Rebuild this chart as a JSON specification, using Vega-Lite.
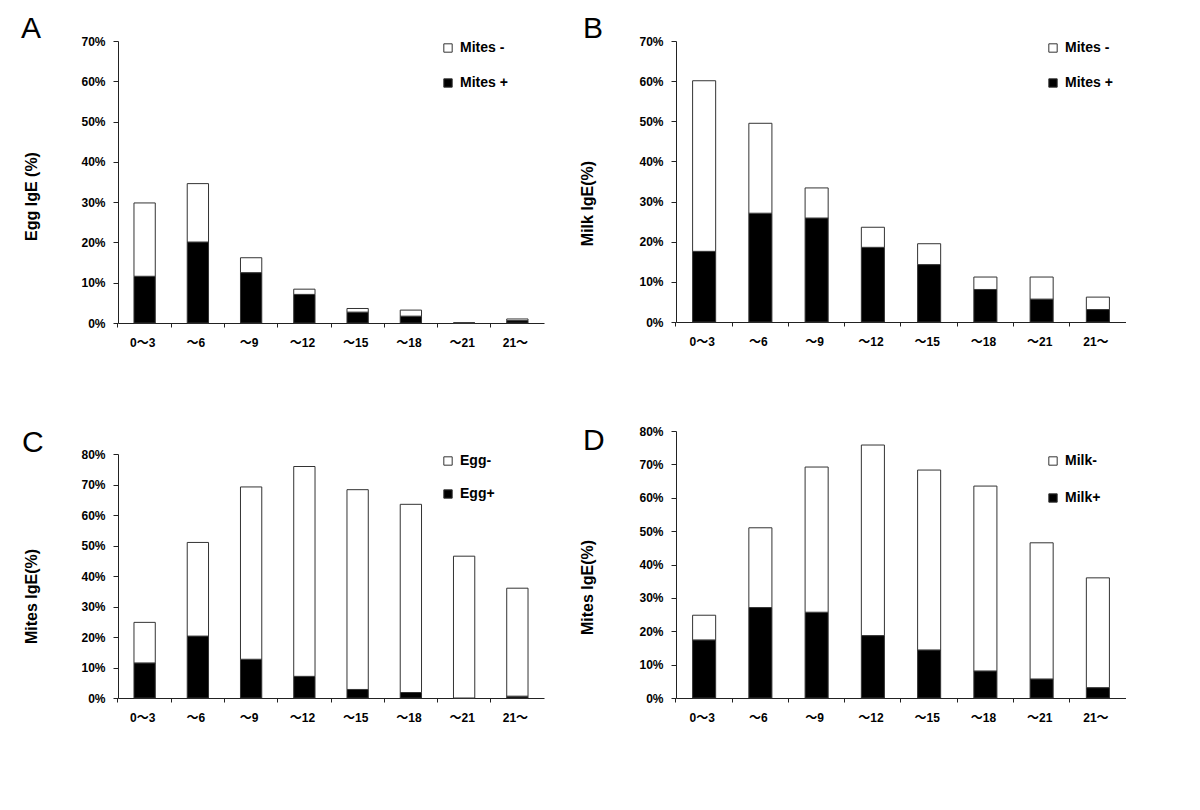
{
  "$schema": "https://vega.github.io/schema/vega-lite/v6.json",
  "background": "white",
  "padding": {"left": 21, "top": 14, "right": 0, "bottom": 0},
  "autosize": {"type": "pad"},
  "datasets": {
    "d": [
      {"p": "A", "age": "0～3", "g": "Mites +", "v": 11.6},
      {"p": "A", "age": "～6", "g": "Mites +", "v": 20.1},
      {"p": "A", "age": "～9", "g": "Mites +", "v": 12.5},
      {"p": "A", "age": "～12", "g": "Mites +", "v": 7.1},
      {"p": "A", "age": "～15", "g": "Mites +", "v": 2.7},
      {"p": "A", "age": "～18", "g": "Mites +", "v": 1.7},
      {"p": "A", "age": "～21", "g": "Mites +", "v": 0},
      {"p": "A", "age": "21～", "g": "Mites +", "v": 0.6},
      {"p": "A", "age": "0～3", "g": "Mites -", "v": 18.2},
      {"p": "A", "age": "～6", "g": "Mites -", "v": 14.5},
      {"p": "A", "age": "～9", "g": "Mites -", "v": 3.7},
      {"p": "A", "age": "～12", "g": "Mites -", "v": 1.3},
      {"p": "A", "age": "～15", "g": "Mites -", "v": 0.9},
      {"p": "A", "age": "～18", "g": "Mites -", "v": 1.5},
      {"p": "A", "age": "～21", "g": "Mites -", "v": 0},
      {"p": "A", "age": "21～", "g": "Mites -", "v": 0.4},
      {"p": "B", "age": "0～3", "g": "Mites +", "v": 17.6},
      {"p": "B", "age": "～6", "g": "Mites +", "v": 27.1},
      {"p": "B", "age": "～9", "g": "Mites +", "v": 25.9},
      {"p": "B", "age": "～12", "g": "Mites +", "v": 18.6},
      {"p": "B", "age": "～15", "g": "Mites +", "v": 14.3},
      {"p": "B", "age": "～18", "g": "Mites +", "v": 8.1},
      {"p": "B", "age": "～21", "g": "Mites +", "v": 5.7},
      {"p": "B", "age": "21～", "g": "Mites +", "v": 3.1},
      {"p": "B", "age": "0～3", "g": "Mites -", "v": 42.5},
      {"p": "B", "age": "～6", "g": "Mites -", "v": 22.4},
      {"p": "B", "age": "～9", "g": "Mites -", "v": 7.5},
      {"p": "B", "age": "～12", "g": "Mites -", "v": 5.0},
      {"p": "B", "age": "～15", "g": "Mites -", "v": 5.2},
      {"p": "B", "age": "～18", "g": "Mites -", "v": 3.1},
      {"p": "B", "age": "～21", "g": "Mites -", "v": 5.5},
      {"p": "B", "age": "21～", "g": "Mites -", "v": 3.1},
      {"p": "C", "age": "0～3", "g": "Egg+", "v": 11.5},
      {"p": "C", "age": "～6", "g": "Egg+", "v": 20.3},
      {"p": "C", "age": "～9", "g": "Egg+", "v": 12.7},
      {"p": "C", "age": "～12", "g": "Egg+", "v": 7.1},
      {"p": "C", "age": "～15", "g": "Egg+", "v": 2.8},
      {"p": "C", "age": "～18", "g": "Egg+", "v": 1.8},
      {"p": "C", "age": "～21", "g": "Egg+", "v": 0},
      {"p": "C", "age": "21～", "g": "Egg+", "v": 0.6},
      {"p": "C", "age": "0～3", "g": "Egg-", "v": 13.3},
      {"p": "C", "age": "～6", "g": "Egg-", "v": 30.7},
      {"p": "C", "age": "～9", "g": "Egg-", "v": 56.5},
      {"p": "C", "age": "～12", "g": "Egg-", "v": 68.8},
      {"p": "C", "age": "～15", "g": "Egg-", "v": 65.5},
      {"p": "C", "age": "～18", "g": "Egg-", "v": 61.7},
      {"p": "C", "age": "～21", "g": "Egg-", "v": 46.5},
      {"p": "C", "age": "21～", "g": "Egg-", "v": 35.4},
      {"p": "D", "age": "0～3", "g": "Milk+", "v": 17.4},
      {"p": "D", "age": "～6", "g": "Milk+", "v": 27.1},
      {"p": "D", "age": "～9", "g": "Milk+", "v": 25.7},
      {"p": "D", "age": "～12", "g": "Milk+", "v": 18.7},
      {"p": "D", "age": "～15", "g": "Milk+", "v": 14.4},
      {"p": "D", "age": "～18", "g": "Milk+", "v": 8.1},
      {"p": "D", "age": "～21", "g": "Milk+", "v": 5.7},
      {"p": "D", "age": "21～", "g": "Milk+", "v": 3.1},
      {"p": "D", "age": "0～3", "g": "Milk-", "v": 7.4},
      {"p": "D", "age": "～6", "g": "Milk-", "v": 23.9},
      {"p": "D", "age": "～9", "g": "Milk-", "v": 43.5},
      {"p": "D", "age": "～12", "g": "Milk-", "v": 57.1},
      {"p": "D", "age": "～15", "g": "Milk-", "v": 53.9},
      {"p": "D", "age": "～18", "g": "Milk-", "v": 55.4},
      {"p": "D", "age": "～21", "g": "Milk-", "v": 40.8},
      {"p": "D", "age": "21～", "g": "Milk-", "v": 32.9}
    ]
  },
  "config": {
    "view": {"stroke": null},
    "axis": {
      "grid": false,
      "domainColor": "#222",
      "tickColor": "#222",
      "labelColor": "#000",
      "labelFont": "Liberation Sans, Noto Sans CJK JP",
      "labelFontSize": 12,
      "labelFontWeight": "bold",
      "titleFont": "Liberation Sans",
      "titleFontSize": 16,
      "titleFontWeight": "bold",
      "titleColor": "#000"
    },
    "axisX": {"tickSize": 4, "labelPadding": 10, "labelAngle": 0, "labelOffset": -2, "title": null},
    "axisY": {"tickSize": 5, "labelPadding": 8, "titleBaseline": "middle", "titleAngle": 270},
    "legend": {
      "orient": "none",
      "title": null,
      "symbolType": "square",
      "symbolSize": 70,
      "symbolStrokeColor": "#333",
      "symbolStrokeWidth": 1,
      "labelFont": "Liberation Sans",
      "labelFontSize": 14,
      "labelFontWeight": "bold",
      "labelColor": "#000",
      "labelOffset": 5,
      "padding": 0
    },
    "title": {"anchor": "start", "frame": "group", "baseline": "alphabetic", "fontSize": 30, "fontWeight": "normal", "font": "Liberation Sans", "color": "#000"}
  },
  "bounds": "full",
  "spacing": 35,
  "resolve": {"scale": {"color": "independent", "x": "independent", "y": "independent"}, "legend": {"color": "independent"}},
  "hconcat": [
    {
      "bounds": "flush",
      "spacing": 131,
      "resolve": {"scale": {"color": "independent", "x": "independent", "y": "independent"}, "legend": {"color": "independent"}},
      "vconcat": [
        {
          "width": 426, "height": 282,
          "data": {"name": "d"},
          "transform": [{"filter": "datum.p === 'A'"}],
          "title": {"text": "A", "dx": -97, "offset": -9},
          "mark": {"type": "bar", "stroke": "#333", "strokeWidth": 1},
          "encoding": {
            "x": {"field": "age", "type": "nominal", "sort": ["0～3", "～6", "～9", "～12", "～15", "～18", "～21", "21～"], "scale": {"paddingInner": 0.6, "paddingOuter": 0.3}, "axis": {"bandPosition": -0.75}},
            "y": {"field": "v", "type": "quantitative", "stack": "zero", "scale": {"domain": [0, 70], "nice": false}, "axis": {"values": [0, 10, 20, 30, 40, 50, 60, 70], "labelExpr": "datum.value + '%'", "title": "Egg  IgE (%)", "titleX": -87, "titleY": 155}},
            "color": {"field": "g", "type": "nominal", "scale": {"domain": ["Mites -", "Mites +"], "range": ["white", "black"]}, "legend": {"legendX": 323, "legendY": 0, "rowPadding": 21}},
            "order": {"field": "g", "sort": "ascending"}
          }
        },
        {
          "width": 426, "height": 244,
          "data": {"name": "d"},
          "transform": [{"filter": "datum.p === 'C'"}],
          "title": {"text": "C", "dx": -96, "offset": -10},
          "mark": {"type": "bar", "stroke": "#333", "strokeWidth": 1},
          "encoding": {
            "x": {"field": "age", "type": "nominal", "sort": ["0～3", "～6", "～9", "～12", "～15", "～18", "～21", "21～"], "scale": {"paddingInner": 0.6, "paddingOuter": 0.3}, "axis": {"bandPosition": -0.75}},
            "y": {"field": "v", "type": "quantitative", "stack": "zero", "scale": {"domain": [0, 80], "nice": false}, "axis": {"values": [0, 10, 20, 30, 40, 50, 60, 70, 80], "labelExpr": "datum.value + '%'", "title": "Mites IgE(%)", "titleX": -87, "titleY": 142}},
            "color": {"field": "g", "type": "nominal", "scale": {"domain": ["Egg-", "Egg+"], "range": ["white", "black"]}, "legend": {"legendX": 323, "legendY": 0, "rowPadding": 19}},
            "order": {"field": "g", "sort": "ascending"}
          }
        }
      ]
    },
    {
      "bounds": "flush",
      "spacing": 109,
      "resolve": {"scale": {"color": "independent", "x": "independent", "y": "independent"}, "legend": {"color": "independent"}},
      "vconcat": [
        {
          "width": 450, "height": 281,
          "data": {"name": "d"},
          "transform": [{"filter": "datum.p === 'B'"}],
          "title": {"text": "B", "dx": -93, "offset": -9},
          "mark": {"type": "bar", "stroke": "#333", "strokeWidth": 1},
          "encoding": {
            "x": {"field": "age", "type": "nominal", "sort": ["0～3", "～6", "～9", "～12", "～15", "～18", "～21", "21～"], "scale": {"paddingInner": 0.59, "paddingOuter": 0.295}, "axis": {"bandPosition": -0.72}},
            "y": {"field": "v", "type": "quantitative", "stack": "zero", "scale": {"domain": [0, 70], "nice": false}, "axis": {"values": [0, 10, 20, 30, 40, 50, 60, 70], "labelExpr": "datum.value + '%'", "title": "Milk IgE(%)", "titleX": -89, "titleY": 162}},
            "color": {"field": "g", "type": "nominal", "scale": {"domain": ["Mites -", "Mites +"], "range": ["white", "black"]}, "legend": {"legendX": 370, "legendY": 0, "rowPadding": 21}},
            "order": {"field": "g", "sort": "ascending"}
          }
        },
        {
          "width": 450, "height": 267,
          "data": {"name": "d"},
          "transform": [{"filter": "datum.p === 'D'"}],
          "title": {"text": "D", "dx": -93, "offset": -31},
          "mark": {"type": "bar", "stroke": "#333", "strokeWidth": 1},
          "encoding": {
            "x": {"field": "age", "type": "nominal", "sort": ["0～3", "～6", "～9", "～12", "～15", "～18", "～21", "21～"], "scale": {"paddingInner": 0.59, "paddingOuter": 0.295}, "axis": {"bandPosition": -0.72}},
            "y": {"field": "v", "type": "quantitative", "stack": "zero", "scale": {"domain": [0, 80], "nice": false}, "axis": {"values": [0, 10, 20, 30, 40, 50, 60, 70, 80], "labelExpr": "datum.value + '%'", "title": "Mites IgE(%)", "titleX": -89, "titleY": 156}},
            "color": {"field": "g", "type": "nominal", "scale": {"domain": ["Milk-", "Milk+"], "range": ["white", "black"]}, "legend": {"legendX": 370, "legendY": 23, "rowPadding": 23}},
            "order": {"field": "g", "sort": "ascending"}
          }
        }
      ]
    }
  ]
}
